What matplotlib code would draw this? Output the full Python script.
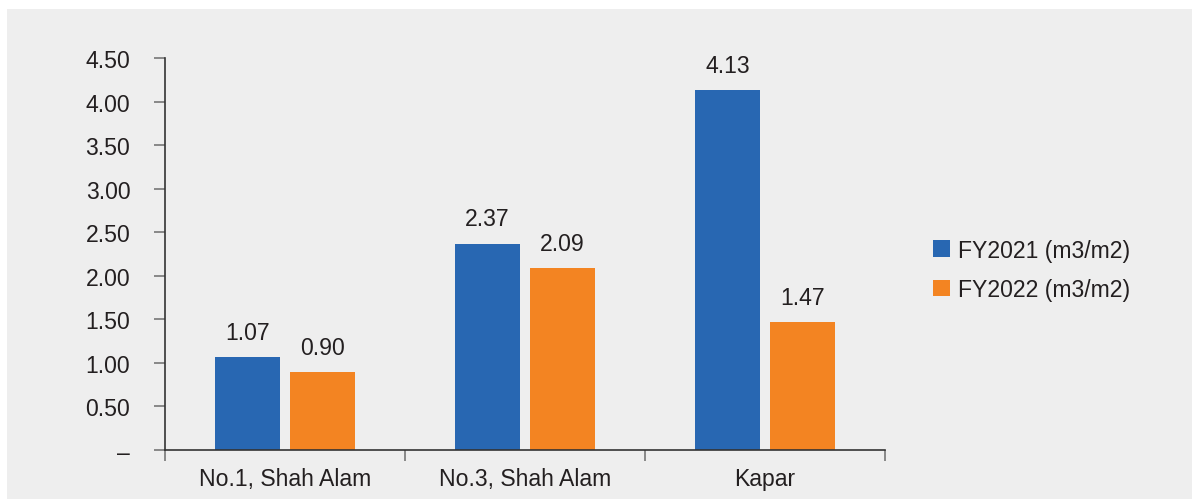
import matplotlib.pyplot as plt
from matplotlib.patches import Rectangle
import numpy as np

# water intensity per site
sites = ['No.1, Shah Alam', 'No.3, Shah Alam', 'Kapar']
fy2021 = [1.07, 2.37, 4.13]
fy2022 = [0.90, 2.09, 1.47]
series_names = ['FY2021 (m3/m2)', 'FY2022 (m3/m2)']
ytick_vals = [0, 0.5, 1.0, 1.5, 2.0, 2.5, 3.0, 3.5, 4.0, 4.5]
ytick_text = ['–', '0.50', '1.00', '1.50', '2.00', '2.50', '3.00', '3.50', '4.00', '4.50']

blue = '#2867b2'
orange = '#f38422'
ink = '#231f20'
fs = 16.6

plt.rcParams['font.family'] = ['Liberation Sans', 'DejaVu Sans']
plt.rcParams['font.size'] = fs

fig = plt.figure(figsize=(11.92, 5.02), dpi=100, facecolor='white')
fig.patches.append(Rectangle((7/1192, 2/502), 1185/1192, 490/502,
                             transform=fig.transFigure, facecolor='#eeeeee',
                             edgecolor='none', zorder=-10))

ax = fig.add_axes([165/1192, 51/502, 720/1192, 392/502])
ax.set_facecolor('none')

x = np.arange(len(sites))
w = 0.271
off = 0.156
b1 = ax.bar(x - off, fy2021, w, color=blue, label=series_names[0])
b2 = ax.bar(x + off, fy2022, w, color=orange, label=series_names[1])

for bars, vals in [(b1, fy2021), (b2, fy2022)]:
    for r, v in zip(bars, vals):
        ax.annotate('%.2f' % v, (r.get_x() + r.get_width()/2, v),
                    xytext=(0, 13), textcoords='offset points',
                    ha='center', va='baseline', color=ink, fontsize=fs)

ax.set_xlim(-0.5, 2.5)
ax.set_ylim(0, 4.5)
ax.set_yticks(ytick_vals)
ax.set_yticklabels(ytick_text)

ax.set_xticks([-0.5, 0.5, 1.5, 2.5])
ax.set_xticklabels([])
ax.set_xticks(x, minor=True)
ax.set_xticklabels(sites, minor=True)
ax.tick_params(axis='x', which='minor', length=0, pad=12, colors=ink, labelsize=fs)
ax.tick_params(axis='x', which='major', length=8, width=1.2, color='#777777', direction='out')
ax.tick_params(axis='y', length=8, width=1.2, color='#777777', pad=17, labelcolor=ink, labelsize=fs)

for s in ['top', 'right']:
    ax.spines[s].set_visible(False)
for s in ['left', 'bottom']:
    ax.spines[s].set_color('#333333')
    ax.spines[s].set_linewidth(1.2)

fig.legend(handles=[b1, b2], loc='center left', bbox_to_anchor=(912/1192, (502-271)/502),
           frameon=False, handlelength=0.75, handleheight=0.75, handletextpad=0.35,
           labelspacing=0.7, fontsize=fs, labelcolor=ink)

fig.savefig('out.png', dpi=100, facecolor='white')
